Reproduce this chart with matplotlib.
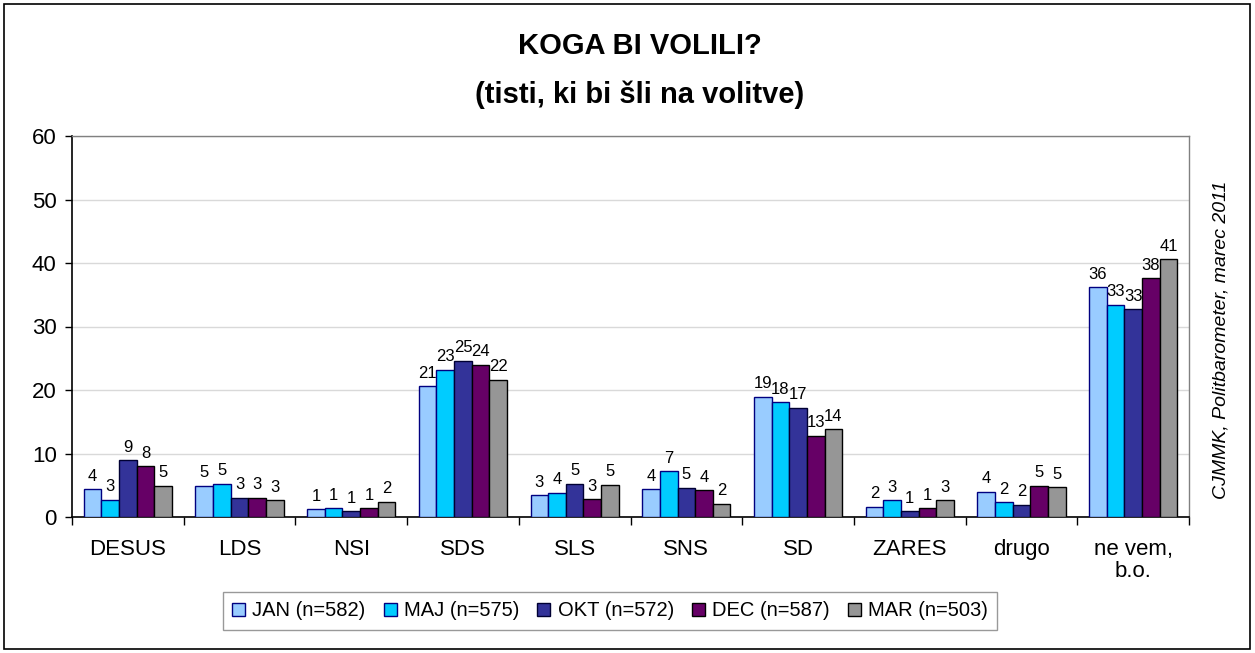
import matplotlib
matplotlib.use('Agg')
import matplotlib.pyplot as plt
from matplotlib.patches import Rectangle
import numpy as np

plt.rcParams['font.family'] = ['Liberation Sans', 'DejaVu Sans']

categories = ['DESUS', 'LDS', 'NSI', 'SDS', 'SLS', 'SNS', 'SD', 'ZARES', 'drugo', 'ne vem,\nb.o.']
series_names = ['JAN (n=582)', 'MAJ (n=575)', 'OKT (n=572)', 'DEC (n=587)', 'MAR (n=503)']

jan = [4.4, 4.9, 1.2, 20.6, 3.4, 4.4, 18.9, 1.6, 4.0, 36.2]
maj = [2.7, 5.2, 1.4, 23.2, 3.8, 7.2, 18.1, 2.6, 2.3, 33.4]
okt = [8.9, 3.0, 0.9, 24.6, 5.2, 4.6, 17.2, 0.9, 1.9, 32.7]
dec = [8.0, 3.0, 1.4, 24.0, 2.8, 4.2, 12.8, 1.4, 4.9, 37.6]
mar = [4.9, 2.6, 2.4, 21.6, 5.1, 2.1, 13.8, 2.6, 4.7, 40.6]

colors = ['#99CCFF', '#00CCFF', '#333399', '#660066', '#969696']
edges = ['#000080', '#000080', '#000033', '#000000', '#000000']

fig = plt.figure(figsize=(12.55, 6.53), dpi=100)
ax = fig.add_axes([72/1255, 1 - 517/653, (1189-72)/1255, (517-136)/653])

# outer frame
fig.patches.append(Rectangle((4/1255, 4/653), 1246/1255, 645/653, transform=fig.transFigure,
                             fill=False, edgecolor='black', linewidth=1.2))

x = np.arange(len(categories))
w = 0.158
all_series = [jan, maj, okt, dec, mar]
for i, vals in enumerate(all_series):
    pos = x + (i - 2) * w
    bars = ax.bar(pos, vals, w, color=colors[i], edgecolor=edges[i], linewidth=1.0,
                  label=series_names[i], zorder=3)
    for b, v in zip(bars, vals):
        ax.annotate('%.0f' % v, (b.get_x() + b.get_width() / 2, v), xytext=(0, 4),
                    textcoords='offset points', ha='center', va='bottom', fontsize=12)

ax.set_xlim(-0.5, len(categories) - 0.5)
ax.set_ylim(0, 60)
ax.set_yticks(range(0, 61, 10))
ax.tick_params(axis='y', labelsize=16, length=5, direction='out', width=1, pad=6)
ax.yaxis.grid(True, color='#D9D9D9', linewidth=1, zorder=0)
ax.set_axisbelow(True)

ax.set_xticks(x)
ax.set_xticklabels(categories, fontsize=16, va='top', linespacing=1.05)
ax.tick_params(axis='x', length=0, pad=16)
ax.set_xticks(np.arange(-0.5, len(categories), 1), minor=True)
ax.tick_params(axis='x', which='minor', length=6, direction='out', width=1)

for s in ['left', 'bottom']:
    ax.spines[s].set_color('black')
    ax.spines[s].set_linewidth(1.2)
for s in ['top', 'right']:
    ax.spines[s].set_color('#808080')
    ax.spines[s].set_linewidth(1)

fig.text(640/1255, 1 - 46/653, 'KOGA BI VOLILI?', ha='center', va='center',
         fontsize=21, fontweight='bold')
fig.text(640/1255, 1 - 95/653, '(tisti, ki bi šli na volitve)', ha='center', va='center',
         fontsize=21, fontweight='bold')

fig.text(1221/1255, 1 - 340/653, 'CJMMK, Politbarometer, marec 2011', rotation=90,
         ha='center', va='center', fontsize=14, style='italic')

leg = fig.legend(loc='center', bbox_to_anchor=(610/1255, 1 - 611/653), ncol=5,
                 fontsize=14.5, frameon=True, fancybox=False, handlelength=0.65,
                 handleheight=0.65, handletextpad=0.35, columnspacing=0.9,
                 borderpad=0.45)
leg.get_frame().set_edgecolor('#808080')
leg.get_frame().set_linewidth(1)

fig.savefig('out.png', dpi=100)
